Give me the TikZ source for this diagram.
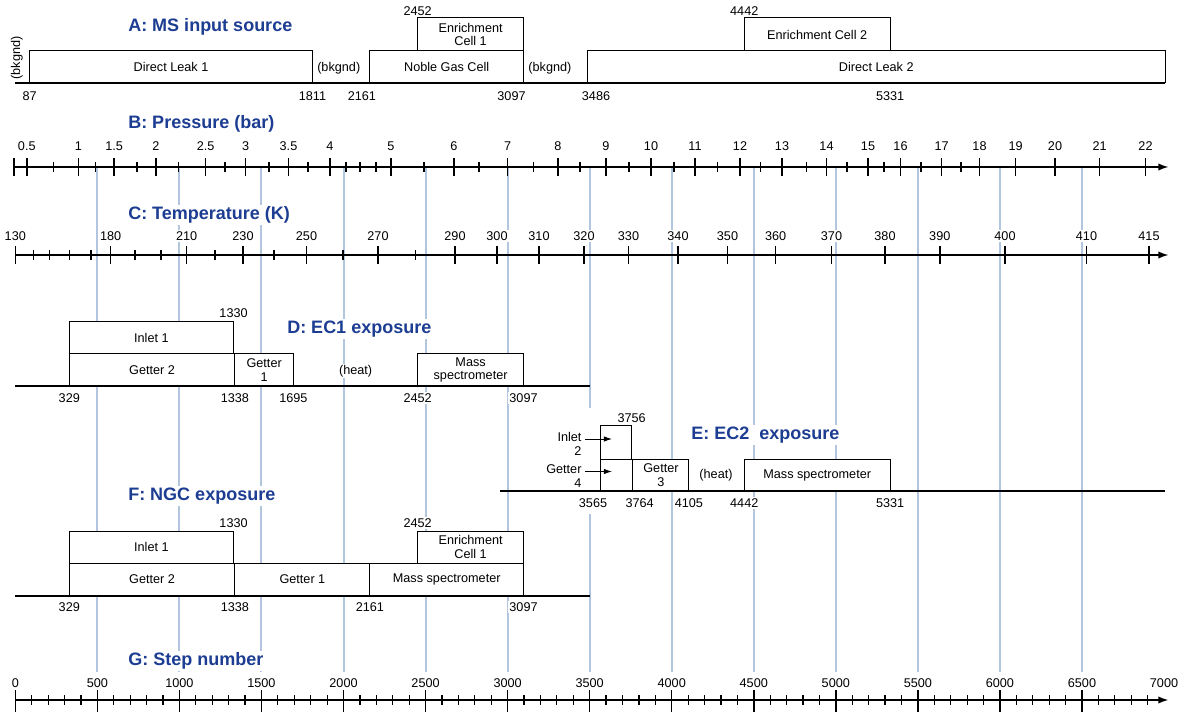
\documentclass[tikz,border=0pt]{standalone}
\usepackage{fontspec}
\setmainfont{Liberation Sans}
\usetikzlibrary{arrows.meta,positioning}
\definecolor{headblue}{HTML}{1C3D92}
\definecolor{gridblue}{HTML}{B2C6E0}
\newcommand\lblfont{\fontsize{9.5}{10}\selectfont}
\newcommand\headfont{\fontsize{13.5}{15}\selectfont\bfseries}

\begin{document}
\begin{tikzpicture}[x=0.75pt, y=-0.75pt,
    seg/.style={draw=black, line width=0.75pt, fill=white},
    txt/.style={font=\lblfont, align=center, inner sep=1pt},
    num/.style={font=\lblfont, fill=white, inner sep=1pt},
    head/.style={font=\headfont, text=headblue, fill=white, inner sep=1.5pt, anchor=west},
    base/.style={line width=1.5pt},
    axis/.style={line width=1.5pt, -{Latex[length=8pt,width=5.5pt]}},
    ptr/.style={line width=0.6pt, -{Latex[length=6pt,width=4pt]}},
    bigtick/.style={line width=1.1pt},
    smalltick/.style={line width=0.9pt},
    gridline/.style={draw=gridblue, line width=1.5pt},
]
\useasboundingbox (0,0) rectangle (1184,712);

% x in step numbers
\begin{scope}[x=0.123075pt, xshift=11.475pt]
\foreach \s in {500,1000,...,6500}
  \draw[gridline] (\s,167) -- (\s,672);
\end{scope}

\node[head] (headA) at (126,27) {A: MS input source};
\node[head] (headB) at (126,124) {B: Pressure (bar)};
\node[head] (headC) at (126,215) {C: Temperature (K)};
\node[head] (headD) at (285,329) {D: EC1 exposure};
\node[head] (headE) at (689,435) {E: EC2~ exposure};
\node[head] (headF) at (126,496) {F: NGC exposure};
\node[head] (headG) at (126,661) {G: Step number};

% pressure
\draw[axis] (14,167) -- (1169,167);
\draw[bigtick] (14.2,158) -- (14.2,176);
\foreach \px/\pv [count=\i] in {26.8/0.5, 78.5/1, 114.2/1.5, 156/2, 205.7/2.5, 245.6/3, 288.5/3.5, 330/4, 391/5, 454/6, 507.7/7, 558/8, 606/9, 651/10, 695/11, 740/12, 782/13, 826.5/14, 868/15, 900.5/16, 941.7/17, 979.5/18, 1015.7/19, 1055/20, 1099.6/21, 1145.5/22} {
  \draw[bigtick] (\px,158) -- (\px,176);
  \node[num] (p\i) at (\px,146) {\pv};
}
\foreach \px in {53.6, 95.8, 137, 178.5, 225, 269, 308, 346, 360, 376, 424, 479, 533.7, 580, 629, 674, 717.5, 760.7, 806.5, 847, 884, 921, 961}
  \draw[smalltick] (\px,162) -- (\px,172);

% temperature
\draw[axis] (15.3,255) -- (1169,255);
\foreach \px/\tv [count=\i] in {15.3/130, 110.7/180, 186.6/210, 243/230, 306.5/250, 378/270, 455/290, 497/300, 539/310, 584/320, 628.5/330, 678/340, 727.5/350, 775.7/360, 831.5/370, 885/380, 939.8/390, 1005/400, 1086.5/410, 1149/415} {
  \draw[bigtick] (\px,246) -- (\px,264);
  \node[num] (t\i) at (\px,236) {\tv};
}
\foreach \px in {33.7, 49.8, 69.7, 91, 135, 161, 215, 274, 343, 415.7}
  \draw[smalltick] (\px,250) -- (\px,260);

\begin{scope}[x=0.123075pt, xshift=11.475pt]
% A
\draw[seg] (2452,18) rectangle node[txt] (ec1a) {Enrichment\\Cell 1} (3097,51);
\draw[seg] (4442,18) rectangle node[txt] (ec2a) {Enrichment Cell 2} (5331,51);
\draw[seg] (87,51) rectangle node[txt] (dl1) {Direct Leak 1} (1811,82.7);
\draw[seg] (2161,51) rectangle node[txt] (ngc) {Noble Gas Cell} (3097,82.7);
\draw[seg] (3486,51) rectangle node[txt] (dl2) {Direct Leak 2} (7007,82.7);
\draw[base] (0,82.7) -- (7007,82.7);
\node[txt, rotate=90] (bkg0) at (10,58) {(bkgnd)};
\node[txt] (bkg1) at (1971,68.5) {(bkgnd)};
\node[txt] (bkg2) at (3258,68.5) {(bkgnd)};
\node[num] (a2452) at (2452,11) {2452};
\node[num] (a4442) at (4442,11) {4442};
\node[num] (a87) at (87,96) {87};
\node[num] (a1811) at (1811,96) {1811};
\node[num, xshift=-6pt] (a2161) at (2161,96) {2161};
\node[num, xshift=-9pt] (a3097) at (3097,96) {3097};
\node[num, xshift=6.5pt] (a3486) at (3486,96) {3486};
\node[num] (a5331) at (5331,96) {5331};

% D
\node[num] (d1330) at (1330,313) {1330};
\draw[seg] (329,322) rectangle node[txt] (inlet1d) {Inlet 1} (1330,354);
\draw[seg] (329,354) rectangle node[txt] (getter2d) {Getter 2} (1338,386);
\draw[seg] (1338,354) rectangle node[txt] (getter1d) {Getter\\1} (1695,386);
\draw[seg] (2452,354) rectangle node[txt] (msd) {Mass\\spectrometer} (3097,386);
\node[txt, fill=white] (heatd) at (2074,371) {(heat)};
\draw[base] (0,386) -- (3500,386);
\foreach \s [count=\i] in {329,1338,1695,2452,3097}
  \node[num] (d\i) at (\s,398) {\s};

% E
\fill[white] (3228,408) rectangle (3565,514);
\node[num] (e3756) at (3756,418) {3756};
\draw[seg] (3565,426) rectangle (3756,459);
\draw[seg] (3565,459) rectangle (3764,491);
\draw[seg] (3764,459) rectangle node[txt] (getter3e) {Getter\\3} (4105,491);
\node[txt, fill=white] (heate) at (4270,475) {(heat)};
\draw[seg] (4442,459) rectangle node[txt] (mse) {Mass spectrometer} (5331,491);
\draw[base] (2955,491) -- (7007,491);
\node[txt, align=right, anchor=east] (inlet2) at (3460,444) {Inlet\\2};
\node[txt, align=right, anchor=east] (getter4) at (3460,476) {Getter\\4};
\coordinate (inlet2tail) at (3472,439);
\coordinate (inlet2tip) at (3636,439);
\coordinate (getter4tail) at (3472,471.5);
\coordinate (getter4tip) at (3636,471.5);
\draw[ptr] (inlet2tail) -- (inlet2tip);
\draw[ptr] (getter4tail) -- (getter4tip);
\node[num, xshift=-5.5pt] (e3565) at (3565,503) {3565};
\node[num, xshift=5pt] (e3764) at (3764,503) {3764};
\node[num] (e4105) at (4105,503) {4105};
\node[num] (e4442) at (4442,503) {4442};
\node[num] (e5331) at (5331,503) {5331};

% F
\node[num] (f1330) at (1330,523) {1330};
\node[num] (f2452) at (2452,523) {2452};
\draw[seg] (329,531) rectangle node[txt] (inlet1f) {Inlet 1} (1330,563);
\draw[seg] (2452,531) rectangle node[txt] (ec1f) {Enrichment\\Cell 1} (3097,563);
\draw[seg] (329,563) rectangle node[txt] (getter2f) {Getter 2} (1338,596);
\draw[seg] (1338,563) rectangle node[txt] (getter1f) {Getter 1} (2161,596);
\draw[seg] (2161,563) rectangle node[txt] (msf) {Mass spectrometer} (3097,596);
\draw[base] (0,596) -- (3500,596);
\foreach \s [count=\i] in {329,1338,2161,3097}
  \node[num] (f\i) at (\s,607) {\s};

% G
\draw[axis] (0,700) -- (7030,700);
\foreach \s in {100,200,...,6900}
  \draw[smalltick] (\s,695) -- (\s,705);
\foreach \s in {0,500,...,6500}
  \draw[bigtick] (\s,690) -- (\s,712);
\foreach \s [count=\i] in {0,500,...,7000}
  \node[num] (g\i) at (\s,683) {\s};
\end{scope}
\end{tikzpicture}
\end{document}
